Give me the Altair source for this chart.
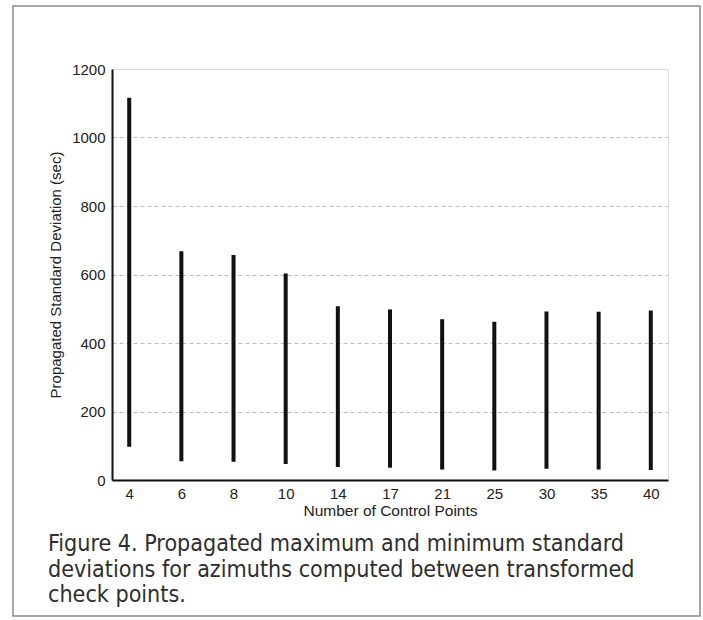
import altair as alt
import pandas as pd

# Propagated standard deviations (sec) of azimuths, by number of control points
control_points = ["4", "6", "8", "10", "14", "17", "21", "25", "30", "35", "40"]
max_sd = [1116, 668, 657, 603, 507, 498, 469, 462, 492, 491, 495]
min_sd = [97, 55, 53, 47, 38, 36, 31, 28, 33, 31, 29]

caption_lines = [
    "Figure 4. Propagated maximum and minimum standard",
    "deviations for azimuths computed between transformed",
    "check points.",
]

df = pd.DataFrame({"cp": control_points, "max": max_sd, "min": min_sd})

x_enc = alt.X(
    "cp:O",
    sort=control_points,
    scale=alt.Scale(type="point", padding=0.33),
    axis=alt.Axis(
        title="Number of Control Points",
        labelAngle=0,
        ticks=False,
        labelPadding=6,
        titlePadding=2,
        domainColor="#111",
        domainWidth=2,
        labelFontSize=15,
        titleFontSize=15.5,
        labelColor="#222",
        titleColor="#222",
        titleFontWeight="normal",
        labelFont="Liberation Sans",
        titleFont="Liberation Sans",
    ),
)

y_enc = alt.Y(
    "min:Q",
    scale=alt.Scale(domain=[0, 1200], nice=False),
    axis=alt.Axis(
        title="Propagated Standard Deviation (sec)",
        values=[0, 200, 400, 600, 800, 1000, 1200],
        format="d",
        ticks=False,
        labelPadding=7,
        titlePadding=8,
        domainColor="#111",
        domainWidth=2,
        grid=True,
        gridColor="#bdbdbd",
        gridDash=[4, 3],
        gridWidth=1,
        gridOpacity={"condition": {"test": "datum.value === 1200 || datum.value === 0", "value": 0}, "value": 1},
        labelFontSize=15,
        titleFontSize=15,
        labelColor="#222",
        titleColor="#222",
        titleFontWeight="normal",
        labelFont="Liberation Sans",
        titleFont="Liberation Sans",
    ),
)

ranges = alt.Chart(df).mark_rule(color="#111", strokeWidth=4, strokeCap="butt").encode(
    x=x_enc,
    y=y_enc,
    y2="max:Q",
)

# border drawn round the whole figure, caption included
frame = alt.Chart(pd.DataFrame({"k": [0]})).mark_rect(
    filled=False, stroke="#8a8a8a", strokeWidth=1.5, clip=False
).encode(
    x=alt.value(-99),
    x2=alt.value(588),
    y=alt.value(-63),
    y2=alt.value(547),
)

# figure caption under the plot
caption = alt.Chart(pd.DataFrame({"caption": ["\n".join(caption_lines)]})).mark_text(
    align="left",
    baseline="top",
    lineBreak="\n",
    lineHeight=25.5,
    font="DejaVu Sans Condensed, Liberation Sans, sans-serif",
    fontSize=23.1,
    color="#2e2e2e",
    clip=False,
).encode(
    x=alt.value(-64),
    y=alt.value(464),
    text="caption:N",
)

chart = (
    alt.layer(frame, ranges, caption)
    .properties(
        width=556,
        height=411,
        autosize=alt.AutoSizeParams(type="none"),
        padding={"left": 112, "top": 69, "right": 35, "bottom": 140},
    )
    .configure_view(stroke=None)
    .configure(background="white")
)

chart.save("out.html", embed_options={"renderer": "svg", "actions": False})
